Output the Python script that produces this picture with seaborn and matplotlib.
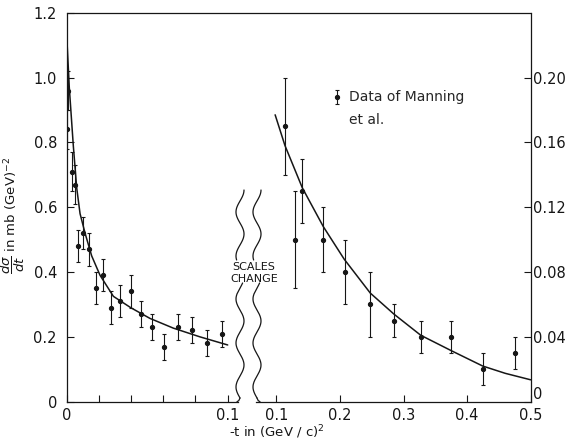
import matplotlib
matplotlib.use('Agg')
import matplotlib.pyplot as plt
import seaborn as sns
import numpy as np

# data of Manning et al., small -t part (left scale, mb/GeV^2)
x_left = [0.0002, 0.001, 0.003, 0.005, 0.0072, 0.0103, 0.014, 0.018, 0.0227, 0.0275,
          0.0331, 0.0398, 0.046, 0.0532, 0.0605, 0.0693, 0.0776, 0.087, 0.0963]
y_left = [0.84, 0.96, 0.71, 0.67, 0.48, 0.52, 0.47, 0.35, 0.39, 0.29,
          0.31, 0.34, 0.27, 0.23, 0.17, 0.23, 0.22, 0.18, 0.21]
err_left = [0.06, 0.06, 0.06, 0.06, 0.05, 0.05, 0.05, 0.05, 0.05, 0.05,
            0.05, 0.05, 0.04, 0.04, 0.04, 0.04, 0.04, 0.04, 0.04]

# large -t part (right scale)
x_right = [0.1135, 0.129, 0.140, 0.173, 0.2076, 0.2477, 0.285, 0.327, 0.375, 0.4245, 0.476]
y_right = [0.17, 0.10, 0.13, 0.10, 0.08, 0.06, 0.05, 0.04, 0.04, 0.02, 0.03]
err_right = [0.03, 0.03, 0.02, 0.02, 0.02, 0.02, 0.01, 0.01, 0.01, 0.01, 0.01]

# theory curves
curve_left_x = [0.0, 0.0016, 0.0041, 0.0062, 0.0083, 0.0114, 0.0155, 0.0207, 0.029,
                0.0398, 0.0517, 0.0662, 0.0828, 0.1]
curve_left_y = [1.13, 0.97, 0.79, 0.66, 0.58, 0.52, 0.45, 0.39, 0.325,
                0.29, 0.257, 0.227, 0.2, 0.175]
curve_right_x = [0.098, 0.1135, 0.1407, 0.1738, 0.2065, 0.2477, 0.285, 0.327, 0.375,
                 0.4245, 0.46, 0.5]
curve_right_y = [0.177, 0.158, 0.132, 0.108, 0.088, 0.067, 0.054, 0.041, 0.0315,
                 0.022, 0.0175, 0.0135]

left_yticks = [0, 0.2, 0.4, 0.6, 0.8, 1.0, 1.2]
left_ylabels = ['0', '0.2', '0.4', '0.6', '0.8', '1.0', '1.2']
left_xticks = [0, 0.02, 0.04, 0.06, 0.08, 0.1]
left_xlabels = ['0', '', '', '', '', '0.1']
right_xticks = [0.1, 0.2, 0.3, 0.4, 0.5]
right_xlabels = ['0.1', '0.2', '0.3', '0.4', '0.5']
right_yticks = [0, 0.04, 0.08, 0.12, 0.16, 0.20]
right_ylabels = ['0', '0.04', '0.08', '0.12', '0.16', '0.20']

sns.set_style('ticks')
plt.rcParams['font.family'] = ['DejaVu Sans']
plt.rcParams['mathtext.fontset'] = 'dejavusans'
ink = '#161616'

W, H = 571, 442
fig = plt.figure(figsize=(W / 100, H / 100), dpi=100)

def box(x0, x1, y0=12.7, y1=401.7):
    return [x0 / W, 1 - y1 / H, (x1 - x0) / W, (y1 - y0) / H]

ax_l = fig.add_axes(box(66.7, 238))
ax_r = fig.add_axes(box(256, 530.7))

# left panel
ax_l.errorbar(x_left, y_left, yerr=err_left, fmt='o', ms=2.8, color=ink,
              elinewidth=0.8, capsize=1.6, capthick=0.8)
sns.lineplot(x=curve_left_x, y=curve_left_y, ax=ax_l, color=ink, lw=1.1, sort=False)
ax_l.set_xlim(0, 0.1064)
ax_l.set_ylim(0, 1.2)
ax_l.set_xticks(left_xticks)
ax_l.set_xticklabels(left_xlabels)
ax_l.set_yticks(left_yticks)
ax_l.set_yticklabels(left_ylabels)
ax_l.spines['top'].set_visible(False)
ax_l.spines['right'].set_visible(False)
ax_l.tick_params(axis='y', direction='in', length=5, width=0.8, labelsize=10.5, pad=7, colors=ink)
ax_l.tick_params(axis='x', direction='in', length=5, width=0.8, labelsize=10.5, pad=4.5, colors=ink)
ax_l.set_ylabel('')
fig.text(13 / W, 1 - 215 / H, r'$\dfrac{d\sigma}{dt}$ in mb (GeV)$^{-2}$', rotation=90,
         ha='center', va='center', fontsize=9.5, color=ink)

# right panel
eb = ax_r.errorbar(x_right, y_right, yerr=err_right, fmt='o', ms=2.8, color=ink,
                   elinewidth=0.8, capsize=1.6, capthick=0.8, label='Data of Manning')
blank, = ax_r.plot([], [], ' ', label='et al.')
sns.lineplot(x=curve_right_x, y=curve_right_y, ax=ax_r, color=ink, lw=1.1, sort=False)
ax_r.set_xlim(0.0679, 0.5)
ax_r.set_ylim(0, 0.24)
ax_r.yaxis.tick_right()
ax_r.set_xticks(right_xticks)
ax_r.set_xticklabels(right_xlabels)
ax_r.set_yticks(right_yticks)
ax_r.set_yticklabels(right_ylabels)
ax_r.spines['top'].set_visible(False)
ax_r.spines['left'].set_visible(False)
ax_r.spines['right'].set_visible(True)
ax_r.tick_params(axis='y', direction='in', length=5, width=0.8, labelsize=10.5, pad=2, colors=ink)
ax_r.tick_params(axis='x', direction='in', length=5, width=0.8, labelsize=10.5, pad=4.5, colors=ink)
ax_r.get_yticklabels()[0].set_va('bottom')
ax_r.set_xlabel('-t in (GeV / c)$^2$', fontsize=9.5, color=ink)
ax_r.xaxis.set_label_coords(0.0765, -0.055)
ax_r.set_ylabel('')
ax_r.legend([eb, blank], ['Data of Manning', 'et al.'], loc='upper left',
            bbox_to_anchor=(0.28, 0.80), frameon=False,
            handlelength=0.6, handletextpad=0.55, labelspacing=0.6,
            borderpad=0, borderaxespad=0, fontsize=10)

for a in (ax_l, ax_r):
    for s in a.spines.values():
        s.set_linewidth(0.9)
        s.set_color(ink)

# overlay in pixel units: top frame line, broken-scale waves and note
ov = fig.add_axes([0, 0, 1, 1])
ov.set_xlim(0, W)
ov.set_ylim(H, 0)
ov.axis('off')
ov.plot([66.7, 530.7], [12.7, 12.7], color=ink, lw=0.9)
for cx, hook in ((240, -1), (257, 1)):
    yy = np.linspace(190, 260, 120)
    ov.plot(cx + 4 * np.cos(2 * np.pi * (yy - 190) / 44), yy, color=ink, lw=0.9)
    yy = np.linspace(283, 398, 160)
    ov.plot(cx + 4 * np.sin(2 * np.pi * (yy - 398) / 44), yy, color=ink, lw=0.9)
    ov.plot([cx, cx + hook * 1.2, cx + hook * 3], [398, 400.6, 401.7], color=ink, lw=0.9)
ov.text(254, 273, 'SCALES\nCHANGE', ha='center', va='center', fontsize=8,
        color=ink, linespacing=1.15)

fig.savefig('out.png', dpi=100)
